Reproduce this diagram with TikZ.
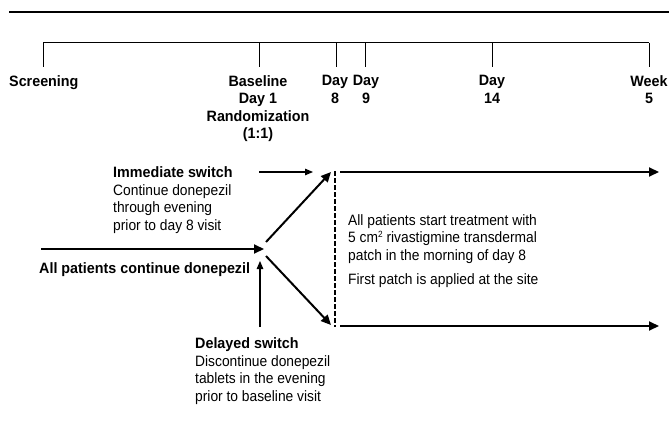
\documentclass[tikz,border=0pt]{standalone}
\usepackage{fontspec}
\setmainfont[FakeStretch=0.92,BoldFeatures={FakeStretch=0.955}]{Liberation Sans}
\usetikzlibrary{arrows.meta}
\begin{document}
\begin{tikzpicture}[x=1pt,y=-1pt,
  lbl/.style={font=\fontsize{15}{17.3}\selectfont\bfseries, inner sep=0pt, align=center, anchor=north},
  txt/.style={font=\fontsize{15}{17.7}\selectfont, inner sep=0pt, align=left, anchor=north west},
  tl/.style={line width=1pt},
  arr/.style={line width=2pt, -{Triangle[length=10pt,width=9pt]}},
  thinarr/.style={line width=1.1pt, -{Triangle[length=8pt,width=6.5pt]}}]
\useasboundingbox (0,0) rectangle (669,433);
% top rule
\draw[line width=2pt] (9,12) -- (669,12);
% timeline
\coordinate (t0) at (43,43);
\coordinate (t5) at (649,43);
\draw[tl] (t0) -- (t5);
\foreach \n/\x in {a/43,b/259,c/336,d/365,e/492,f/649} {
  \coordinate (top\n) at (\x,43);
  \coordinate (bot\n) at (\x,67);
  \draw[tl] (top\n) -- (bot\n);
}
\node[lbl, anchor=north west] (scr) at (9,75.4) {Screening};
\node[lbl] (base) at (258,75.4) {Baseline\\Day 1\\Randomization\\(1:1)};
\node[lbl] (d8) at (335,75.4) {Day\\8};
\node[lbl] (d9) at (366,75.4) {Day\\9};
\node[lbl] (d14) at (492,75.4) {Day\\14};
\node[lbl] (w5) at (649,75.4) {Week\\5};
% main arrow
\coordinate (m0) at (41,249);
\coordinate (m1) at (264,249);
\draw[arr] (m0) -- (m1);
\node[lbl, anchor=north west] (allcont) at (39,262.4) {All patients continue donepezil};
% immediate switch
\node[txt] (imm) at (113,166.4) {\textbf{Immediate switch}\\Continue donepezil\\through evening\\prior to day 8 visit};
\coordinate (ia) at (259,172);
\coordinate (ib) at (313,172);
\draw[thinarr] (ia) -- (ib);
% delayed switch
\node[txt] (del) at (195,337.4) {\textbf{Delayed switch}\\Discontinue donepezil\\tablets in the evening\\prior to baseline visit};
\coordinate (da) at (260,327);
\coordinate (db) at (260,261);
\draw[thinarr] (da) -- (db);
% diagonals
\coordinate (u0) at (266,242);
\coordinate (u1) at (331,172);
\coordinate (l0) at (266,256);
\coordinate (l1) at (331,325);
\draw[arr] (u0) -- (u1);
\draw[arr] (l0) -- (l1);
% dashed line
\coordinate (v0) at (335,171);
\coordinate (v1) at (335,327);
\draw[line width=1.8pt, dash pattern=on 4.5pt off 2.5pt] (v0) -- (v1);
% horizontal arrows
\coordinate (h0) at (340,172);
\coordinate (h1) at (659,172);
\coordinate (k0) at (340,326);
\coordinate (k1) at (659,326);
\draw[arr] (h0) -- (h1);
\draw[arr] (k0) -- (k1);
% centre text
\node[txt, font=\fontsize{15}{17.5}\selectfont] (start) at (348,214.4) {All patients start treatment with\\5 cm\raisebox{5pt}{\fontsize{9}{9}\selectfont 2} rivastigmine transdermal\\patch in the morning of day 8\\[7pt]First patch is applied at the site};
\end{tikzpicture}
\end{document}
